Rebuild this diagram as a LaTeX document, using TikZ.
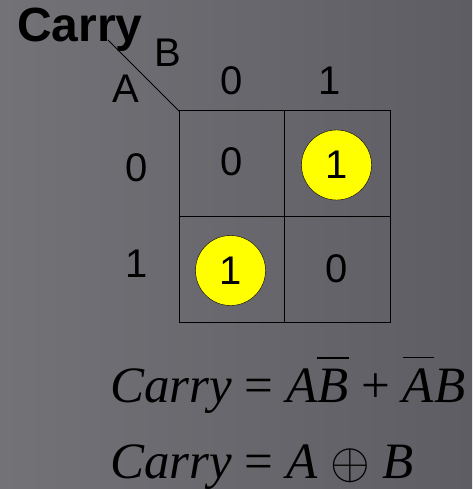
\RequirePackage{fix-cm}
\documentclass[tikz,border=0pt]{standalone}
\usepackage{fontspec}
\setmainfont{Liberation Serif}
\setsansfont{Liberation Sans}
\usepackage{tikz}
\usetikzlibrary{positioning}
\definecolor{BgLeft}{HTML}{737277}
\definecolor{BgRight}{HTML}{5E5D63}
\definecolor{Mark}{HTML}{FFFF00}
\newcommand{\ov}[1]{\leavevmode\vbox{\hrule height 1.6pt\kern 10pt\hbox{\itshape #1}}}

\begin{document}
\begin{tikzpicture}[x=1pt,y=-1pt,
  lbl/.style={font=\sffamily\fontsize{40}{40}\selectfont,inner sep=0pt},
  one/.style={circle,draw,thin,fill=Mark,minimum size=70pt,inner sep=0pt,font=\sffamily\fontsize{40}{40}\selectfont},
  eqn/.style={anchor=base west,inner sep=0pt,font=\fontsize{51}{51}\selectfont}]
  % background
  \shade[left color=BgLeft,right color=BgRight] (0,0) rectangle (472,489);
  \useasboundingbox (0,0) rectangle (472,489);
  % map
  \coordinate (corner) at (108,40);
  \coordinate (tl) at (179,111);
  \coordinate (br) at (390,322);
  \draw[line width=1pt] (tl) rectangle (br);
  \draw[line width=1pt] (284.5,111) -- (284.5,322) (179,216.5) -- (390,216.5);
  \draw[line width=0.8pt] (corner) -- (tl);
  \node[anchor=base west,inner sep=0pt,font=\sffamily\bfseries\fontsize{48}{48}\selectfont] (title) at (17,42) {Carry};
  \node[lbl] (varB) at (167.5,52.5) {B};
  \node[lbl] (varA) at (126,88.5) {A};
  \node[lbl] (col0) at (232,81) {0};
  \node[lbl] (col1) at (330,81) {1};
  \node[lbl] (row0) at (137,167.5) {0};
  \node[lbl] (row1) at (137,264) {1};
  \node[lbl] (c00) at (232,162) {0};
  \node[one] (c01) at (336.5,165) {1};
  \node[one] (c10) at (230.5,270.5) {1};
  \node[lbl] (c11) at (337,269) {0};
  % equations
  \node[eqn] (sop) at (110,402) {\itshape Carry\upshape{} = \itshape A\ov{B}\upshape{} + \ov{A}\itshape B};
  \node[eqn] (xor) at (110,478) {\itshape Carry\upshape{} = \itshape A\upshape{} $\oplus$ \itshape B};
\end{tikzpicture}
\end{document}
